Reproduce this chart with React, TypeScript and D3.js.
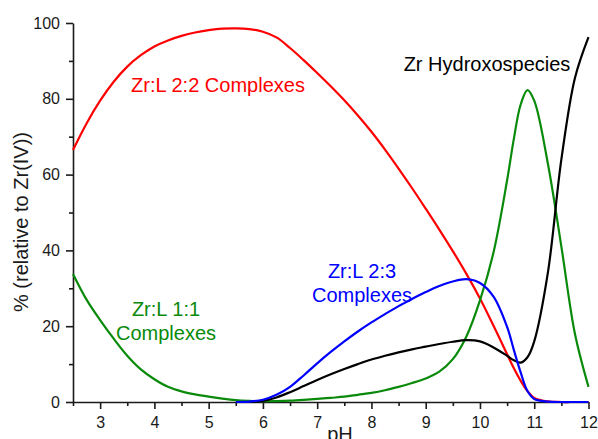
import React, { useEffect, useRef } from "react";
import * as d3 from "d3";

const W = 598;
const H = 439;

// pH grid shared by all species (extra points near the green peak)
const pH = [
  2.5, 2.75, 3, 3.25, 3.5, 3.75, 4, 4.25, 4.5, 4.75, 5, 5.25, 5.5, 5.75, 6,
  6.25, 6.5, 6.75, 7, 7.25, 7.5, 7.75, 8, 8.25, 8.5, 8.75, 9, 9.25, 9.5, 9.75,
  10, 10.25, 10.5, 10.625, 10.75, 10.875, 11, 11.25, 11.5, 11.75, 12,
];

// Zr:L 2:2 complexes (red)
const zrL22 = [
  66.5, 73.5, 79.5, 84.5, 88.5, 91.5, 93.8, 95.4, 96.6, 97.5, 98.1, 98.5, 98.6,
  98.4, 97.7, 96.2, 93.4, 90.2, 86.8, 83.3, 79.6, 75.6, 71.3, 66.6, 61.6, 56.4,
  51.0, 45.5, 39.8, 33.8, 27.3, 20.1, 12.6, 8.9, 5.6, 2.9, 1.1, 0.15, 0, 0, 0,
];

// Zr:L 2:3 complexes (blue)
const zrL23 = [
  null, null, null, null, null, null, null, null, null, null, null, null, 0,
  0.1, 0.6, 1.9, 4.0, 7.0, 10.2, 13.2, 16.0, 18.6, 21.0, 23.2, 25.3, 27.2,
  29.0, 30.6, 31.8, 32.4, 31.4, 27.8, 19.8, 13.7, 7.8, 2.9, 0.8, 0.1, 0, 0, 0,
];

// Zr:L 1:1 complexes (green)
const zrL11 = [
  33.8, 27.0, 21.6, 16.7, 12.2, 8.6, 6.0, 4.0, 2.8, 2.0, 1.4, 0.9, 0.5, 0.3,
  0.2, 0.25, 0.35, 0.55, 0.8, 1.1, 1.4, 1.9, 2.4, 3.1, 4.0, 5.0, 6.2, 8.0, 11.3,
  17.3, 26.8, 39.5, 58.5, 69.5, 78.5, 82.3, 79.5, 63.0, 41.0, 18.0, 4.0,
];

// Zr hydroxospecies (black)
const zrOH = [
  null, null, null, null, null, null, null, null, null, null, null, null, null,
  0, 0.3, 1.2, 2.6, 4.2, 5.8, 7.3, 8.7, 10.0, 11.2, 12.2, 13.1, 13.9, 14.6,
  15.3, 15.9, 16.3, 16.0, 14.4, 12.2, 11.0, 10.4, 11.8, 16.0, 34.0, 64.0, 85.5,
  96.3,
];

const xMajor = [3, 4, 5, 6, 7, 8, 9, 10, 11, 12];
const xMinor = [2.5, 3.5, 4.5, 5.5, 6.5, 7.5, 8.5, 9.5, 10.5, 11.5];
const yMajor = [0, 20, 40, 60, 80, 100];
const yMinor = [10, 30, 50, 70, 90];

const series = [
  { name: "2:2", values: zrL22, color: "#ff0000" },
  { name: "1:1", values: zrL11, color: "#0a8a0a" },
  { name: "OH", values: zrOH, color: "#000000" },
  { name: "2:3", values: zrL23, color: "#0000ff" },
];

const labels = [
  { lines: ["Zr:L 2:2 Complexes"], x: 218, y: 92, color: "#ff0000" },
  { lines: ["Zr Hydroxospecies"], x: 487, y: 71, color: "#000000" },
  { lines: ["Zr:L 2:3", "Complexes"], x: 362, y: 278, color: "#0000ff" },
  { lines: ["Zr:L 1:1", "Complexes"], x: 166, y: 316, color: "#0a8a0a" },
];

const FONT = "'Liberation Sans', Arial, sans-serif";

const App = () => {
  const svgRef = useRef(null);

  useEffect(() => {
    const svg = d3.select(svgRef.current);
    svg.selectAll("*").remove();

    const x = d3.scaleLinear().domain([2.5, 12]).range([73, 588.5]);
    const y = d3.scaleLinear().domain([0, 100]).range([402, 23]);

    // axes
    const axisColor = "#1a1a1a";
    const gx = svg.append("g").attr("transform", `translate(0,${y(0)})`);
    gx.call(d3.axisBottom(x).tickValues(xMinor).tickSize(4).tickFormat(() => "").tickSizeOuter(0));
    gx.call((g) => g.select(".domain").remove());
    const gx2 = svg.append("g").attr("transform", `translate(0,${y(0)})`);
    gx2.call(
      d3.axisBottom(x).tickValues(xMajor).tickSize(7).tickPadding(8).tickSizeOuter(0).tickFormat(d3.format("d"))
    );

    const gy = svg.append("g").attr("transform", `translate(${x(2.5)},0)`);
    gy.call(d3.axisLeft(y).tickValues(yMinor).tickSize(4).tickFormat(() => "").tickSizeOuter(0));
    gy.call((g) => g.select(".domain").remove());
    const gy2 = svg.append("g").attr("transform", `translate(${x(2.5)},0)`);
    gy2.call(d3.axisLeft(y).tickValues(yMajor).tickSize(7).tickPadding(6).tickSizeOuter(0));

    svg
      .selectAll(".tick line, .domain")
      .attr("stroke", axisColor)
      .attr("stroke-width", 1.6);
    svg
      .selectAll(".tick text")
      .attr("font-family", FONT)
      .attr("font-size", 16)
      .attr("fill", "#1a1a1a");

    // axis titles (pH sits at the bottom edge, partly cropped as in the original)
    svg
      .append("text")
      .attr("x", 340)
      .attr("y", 441)
      .attr("text-anchor", "middle")
      .attr("font-family", FONT)
      .attr("font-size", 20)
      .attr("fill", "#1a1a1a")
      .text("pH");
    svg
      .append("text")
      .attr("transform", `translate(28,222) rotate(-90)`)
      .attr("text-anchor", "middle")
      .attr("font-family", FONT)
      .attr("font-size", 20)
      .attr("fill", "#1a1a1a")
      .text("% (relative to Zr(IV))");

    // curves
    const line = d3
      .line()
      .defined((d) => d[1] != null)
      .x((d) => x(d[0]))
      .y((d) => y(Math.max(0, d[1])))
      .curve(d3.curveCatmullRom.alpha(0.5));

    series.forEach((s) => {
      const pts = pH.map((p, i) => [p, s.values[i]]);
      svg
        .append("path")
        .attr("d", line(pts))
        .attr("fill", "none")
        .attr("stroke", s.color)
        .attr("stroke-width", 2.2)
        .attr("stroke-linejoin", "round");
    });

    // annotations
    labels.forEach((l) => {
      const t = svg
        .append("text")
        .attr("text-anchor", "middle")
        .attr("font-family", FONT)
        .attr("font-size", 20)
        .attr("fill", l.color);
      l.lines.forEach((txt, i) => {
        t.append("tspan").attr("x", l.x).attr("y", l.y + i * 23.5).text(txt);
      });
    });
  }, []);

  return (
    <svg
      ref={svgRef}
      width={W}
      height={H}
      style={{ position: "absolute", left: 0, top: 0, background: "#fff" }}
    />
  );
};

export default App;
